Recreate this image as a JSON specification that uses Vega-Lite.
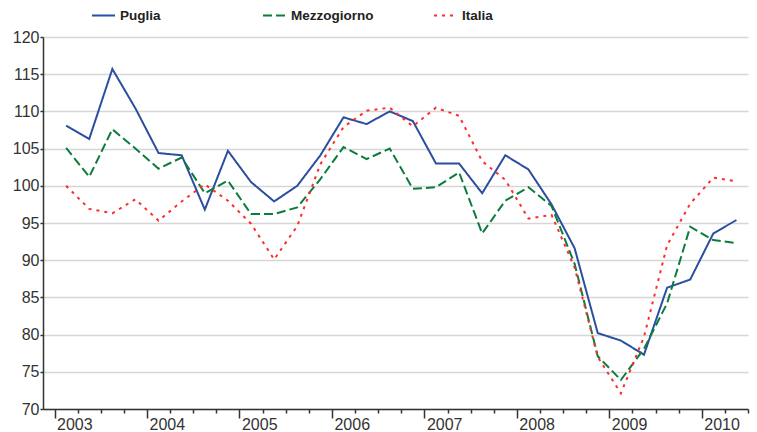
{
  "$schema": "https://vega.github.io/schema/vega-lite/v6.json",
  "width": 705,
  "height": 372,
  "autosize": {"type": "none"},
  "padding": {"left": 43, "top": 37, "right": 9, "bottom": 23},
  "background": "white",
  "config": {
    "font": "Liberation Sans",
    "view": {"stroke": null}
  },
  "data": {
    "values": [
      {"tempo": 2003.125, "Puglia": 108.1, "Mezzogiorno": 105.1, "Italia": 100.0},
      {"tempo": 2003.375, "Puglia": 106.3, "Mezzogiorno": 101.2, "Italia": 96.9},
      {"tempo": 2003.625, "Puglia": 115.7, "Mezzogiorno": 107.6, "Italia": 96.3},
      {"tempo": 2003.875, "Puglia": 110.4, "Mezzogiorno": 105.0, "Italia": 98.2},
      {"tempo": 2004.125, "Puglia": 104.4, "Mezzogiorno": 102.3, "Italia": 95.3},
      {"tempo": 2004.375, "Puglia": 104.1, "Mezzogiorno": 103.8, "Italia": 97.9},
      {"tempo": 2004.625, "Puglia": 96.8, "Mezzogiorno": 99.0, "Italia": 100.2},
      {"tempo": 2004.875, "Puglia": 104.7, "Mezzogiorno": 100.7, "Italia": 98.0},
      {"tempo": 2005.125, "Puglia": 100.5, "Mezzogiorno": 96.2, "Italia": 94.9},
      {"tempo": 2005.375, "Puglia": 97.9, "Mezzogiorno": 96.2, "Italia": 90.1},
      {"tempo": 2005.625, "Puglia": 100.0, "Mezzogiorno": 97.1, "Italia": 94.6},
      {"tempo": 2005.875, "Puglia": 104.1, "Mezzogiorno": 100.9, "Italia": 102.9},
      {"tempo": 2006.125, "Puglia": 109.2, "Mezzogiorno": 105.2, "Italia": 107.9},
      {"tempo": 2006.375, "Puglia": 108.3, "Mezzogiorno": 103.6, "Italia": 110.1},
      {"tempo": 2006.625, "Puglia": 110.0, "Mezzogiorno": 105.0, "Italia": 110.5},
      {"tempo": 2006.875, "Puglia": 108.7, "Mezzogiorno": 99.6, "Italia": 108.0},
      {"tempo": 2007.125, "Puglia": 103.0, "Mezzogiorno": 99.8, "Italia": 110.5},
      {"tempo": 2007.375, "Puglia": 103.0, "Mezzogiorno": 101.8, "Italia": 109.4},
      {"tempo": 2007.625, "Puglia": 99.0, "Mezzogiorno": 93.6, "Italia": 103.3},
      {"tempo": 2007.875, "Puglia": 104.1, "Mezzogiorno": 98.0, "Italia": 100.8},
      {"tempo": 2008.125, "Puglia": 102.2, "Mezzogiorno": 99.8, "Italia": 95.6},
      {"tempo": 2008.375, "Puglia": 97.5, "Mezzogiorno": 97.3, "Italia": 96.1},
      {"tempo": 2008.625, "Puglia": 91.6, "Mezzogiorno": 89.5, "Italia": 89.0},
      {"tempo": 2008.875, "Puglia": 80.2, "Mezzogiorno": 77.1, "Italia": 77.0},
      {"tempo": 2009.125, "Puglia": 79.2, "Mezzogiorno": 73.9, "Italia": 72.1},
      {"tempo": 2009.375, "Puglia": 77.3, "Mezzogiorno": 78.1, "Italia": 79.7},
      {"tempo": 2009.625, "Puglia": 86.3, "Mezzogiorno": 84.2, "Italia": 92.0},
      {"tempo": 2009.875, "Puglia": 87.4, "Mezzogiorno": 94.5, "Italia": 97.6},
      {"tempo": 2010.125, "Puglia": 93.6, "Mezzogiorno": 92.7, "Italia": 101.1},
      {"tempo": 2010.375, "Puglia": 95.4, "Mezzogiorno": 92.3, "Italia": 100.6}
    ]
  },
  "transform": [
    {"fold": ["Puglia", "Mezzogiorno", "Italia"], "as": ["serie", "valore"]}
  ],
  "resolve": {"axis": {"x": "independent"}},
  "layer": [
    {
      "mark": {"type": "line", "strokeWidth": 2},
      "encoding": {
        "x": {
          "field": "tempo",
          "type": "quantitative",
          "scale": {"domain": [2002.875, 2010.5], "nice": false, "zero": false},
          "axis": {
            "orient": "bottom",
            "title": null,
            "values": [2003, 2004, 2005, 2006, 2007, 2008, 2009, 2010],
            "format": "d",
            "grid": false,
            "tickSize": 9,
            "tickWidth": 1.5,
            "tickColor": "#333333",
            "domainColor": "#333333",
            "domainWidth": 1.5,
            "labelAlign": "left",
            "labelOffset": 2,
            "labelPadding": -2,
            "labelFontSize": 16,
            "labelColor": "#333333",
            "labelFlush": false,
            "labelOverlap": false
          }
        },
        "y": {
          "field": "valore",
          "type": "quantitative",
          "scale": {"domain": [70, 120], "nice": false, "zero": false},
          "axis": {
            "title": null,
            "values": [70, 75, 80, 85, 90, 95, 100, 105, 110, 115, 120],
            "labelOverlap": false,
            "grid": true,
            "gridColor": "#d6d6d6",
            "gridWidth": 1.5,
            "tickSize": 3,
            "tickWidth": 1.5,
            "tickColor": "#333333",
            "domainColor": "#333333",
            "domainWidth": 1.5,
            "labelPadding": 1,
            "labelFontSize": 16,
            "labelColor": "#333333"
          }
        },
        "color": {
          "field": "serie",
          "type": "nominal",
          "scale": {
            "domain": ["Puglia", "Mezzogiorno", "Italia"],
            "range": ["#2b4ea0", "#0c7c3c", "#ff2b2b"]
          },
          "legend": {
            "orient": "none",
            "legendX": 48,
            "legendY": -34,
            "direction": "horizontal",
            "title": null,
            "padding": 0,
            "symbolType": "stroke",
            "symbolSize": 529,
            "symbolStrokeWidth": 2,
            "labelFont": "Liberation Sans",
            "labelFontSize": 13.5,
            "labelFontWeight": "bold",
            "labelColor": "#222222",
            "labelOffset": 4,
            "columnPadding": 56,
            "gridAlign": "all"
          }
        },
        "strokeDash": {
          "field": "serie",
          "type": "nominal",
          "scale": {
            "domain": ["Puglia", "Mezzogiorno", "Italia"],
            "range": [[1, 0], [9, 4], [3, 5]]
          },
          "legend": {
            "orient": "none",
            "legendX": 48,
            "legendY": -34,
            "direction": "horizontal",
            "title": null,
            "padding": 0,
            "symbolType": "stroke",
            "symbolSize": 529,
            "symbolStrokeWidth": 2,
            "labelFont": "Liberation Sans",
            "labelFontSize": 13.5,
            "labelFontWeight": "bold",
            "labelColor": "#222222",
            "labelOffset": 4,
            "columnPadding": 56,
            "gridAlign": "all"
          }
        }
      }
    },
    {
      "mark": {"type": "line", "opacity": 0},
      "encoding": {
        "x": {
          "field": "tempo",
          "type": "quantitative",
          "axis": {
            "orient": "bottom",
            "title": null,
            "values": [2003.25, 2003.5, 2003.75, 2004.25, 2004.5, 2004.75, 2005.25, 2005.5, 2005.75, 2006.25, 2006.5, 2006.75, 2007.25, 2007.5, 2007.75, 2008.25, 2008.5, 2008.75, 2009.25, 2009.5, 2009.75, 2010.25, 2010.5],
            "labels": false,
            "domain": false,
            "grid": false,
            "tickSize": 4,
            "tickWidth": 1.5,
            "tickColor": "#333333"
          }
        },
        "y": {
          "field": "valore",
          "type": "quantitative",
          "axis": {
            "title": null,
            "values": [70, 75, 80, 85, 90, 95, 100, 105, 110, 115, 120],
            "labelOverlap": false,
            "grid": true,
            "gridColor": "#d6d6d6",
            "gridWidth": 1.5,
            "tickSize": 3,
            "tickWidth": 1.5,
            "tickColor": "#333333",
            "domainColor": "#333333",
            "domainWidth": 1.5,
            "labelPadding": 1,
            "labelFontSize": 16,
            "labelColor": "#333333"
          }
        },
        "detail": {"field": "serie"}
      }
    }
  ]
}
